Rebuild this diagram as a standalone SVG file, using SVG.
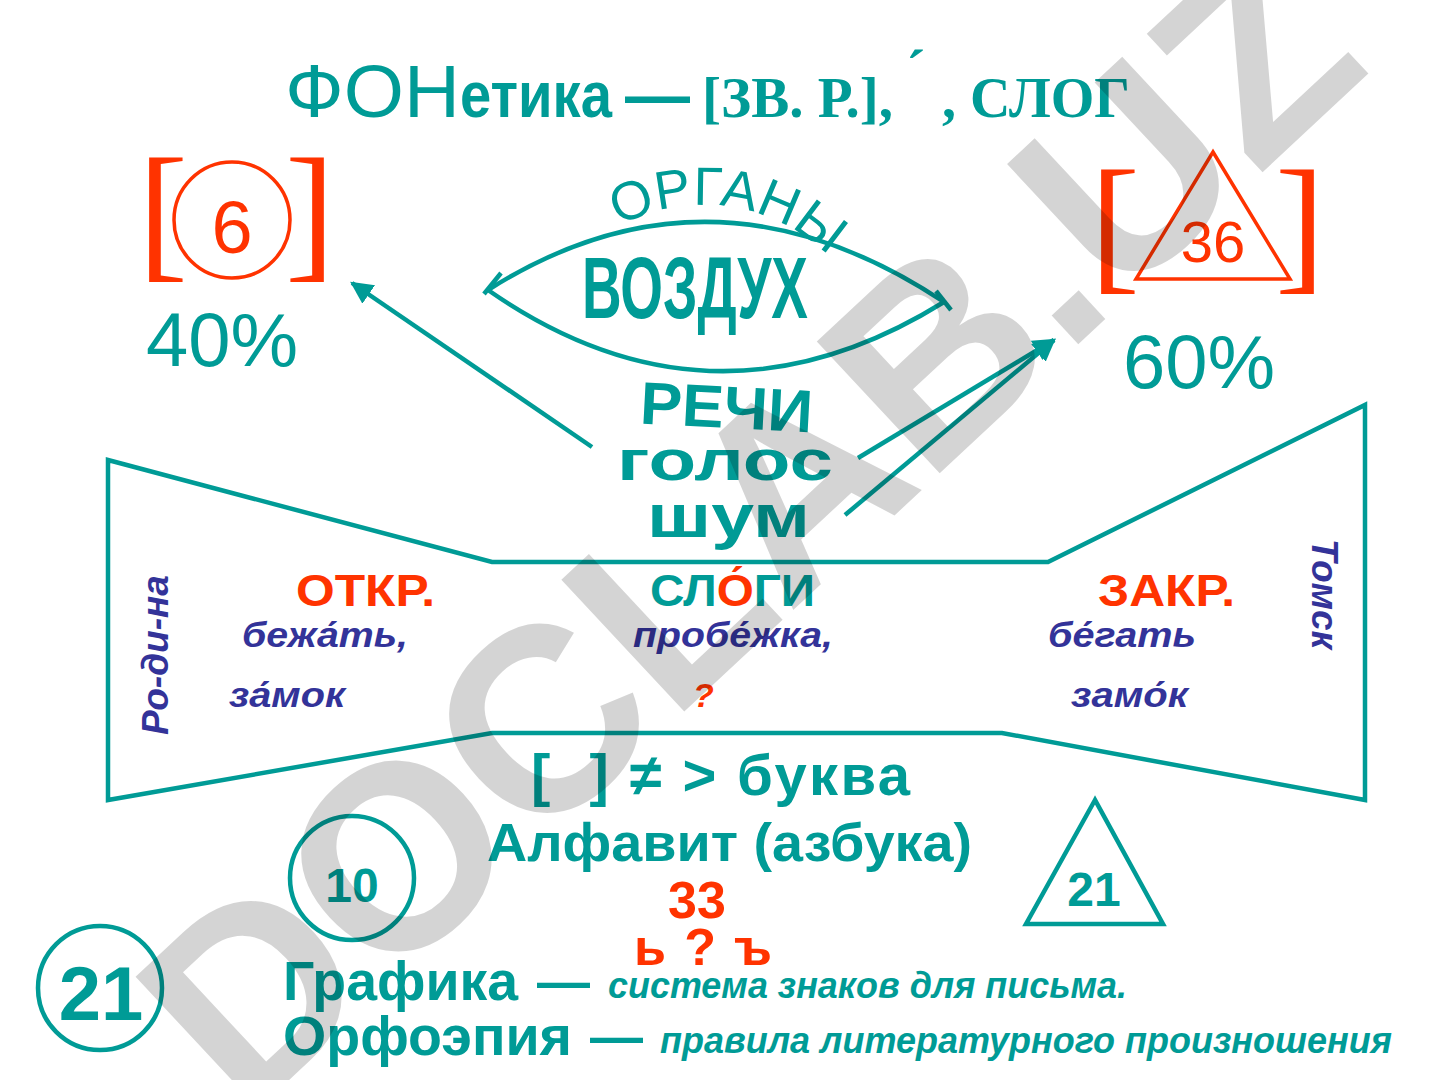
<svg xmlns="http://www.w3.org/2000/svg" width="1440" height="1080" viewBox="0 0 1440 1080">
<style>
.t{fill:#009b96}
.r{fill:#ff3300}
.n{fill:#333399}
.s{font-family:"Liberation Sans",Arial,sans-serif}
.sf{font-family:"Liberation Serif","Times New Roman",serif}
.b{font-weight:bold}
.i{font-style:italic}
.ln{stroke:#009b96;stroke-width:4.5;fill:none}
.rl{stroke:#ff3300;stroke-width:3.5;fill:none}
</style>
<defs>
<marker id="ah" markerWidth="6" markerHeight="6" refX="4.5" refY="2.5" orient="auto" markerUnits="strokeWidth">
<path d="M0,0 L5,2.5 L0,5 Z" fill="#009b96"/>
</marker>
<path id="arcP" d="M 563.1,273 A 178 178 0 0 1 868.3,316.9"/>
</defs>
<rect width="1440" height="1080" fill="#ffffff"/>

<g id="title">
<text class="s t" x="285" y="117" font-size="74" textLength="175" lengthAdjust="spacingAndGlyphs">ФОН</text>
<text class="s t b" x="460" y="117" font-size="64" textLength="152" lengthAdjust="spacingAndGlyphs">етика</text>
<text class="s t b" x="625" y="117" font-size="64" textLength="65" lengthAdjust="spacingAndGlyphs">—</text>
<text class="sf t b" x="702" y="117" font-size="58" textLength="191" lengthAdjust="spacingAndGlyphs">[ЗВ. Р.],</text>
<text class="sf t b" x="906" y="89" font-size="58">´</text>
<text class="sf t b" x="942" y="117" font-size="58" textLength="188" lengthAdjust="spacingAndGlyphs">, СЛОГ</text>
</g>

<g id="node-left">
<text class="sf r" x="138" y="262" font-size="150">[</text>
<circle class="rl" cx="232" cy="220" r="58"/>
<text class="s r" x="232" y="253" font-size="74" text-anchor="middle">6</text>
<text class="sf r" x="285" y="262" font-size="150">]</text>
<text class="s t" x="222" y="366" font-size="76" text-anchor="middle">40%</text>
</g>

<g id="node-right">
<text class="sf r" x="1090" y="274" font-size="150">[</text>
<polygon class="rl" points="1213,152 1136,279 1290,279" stroke-width="4.5"/>
<text class="s r" x="1213" y="262" font-size="58" text-anchor="middle">36</text>
<text class="sf r" x="1275" y="274" font-size="150">]</text>
<text class="s t" x="1199" y="388" font-size="76" text-anchor="middle">60%</text>
</g>

<g id="node-organs">
<path class="ln" d="M 488,290 Q 712,148 944,302"/>
<path class="ln" d="M 488,290 Q 712,446 944,302"/>
<line class="ln" x1="484" y1="294" x2="501" y2="273"/>
<line class="ln" x1="936" y1="291" x2="951" y2="310"/>
<text class="s t" font-size="54"><textPath href="#arcP" startOffset="50%" text-anchor="middle">ОРГАНЫ</textPath></text>
<text class="s t b" x="582" y="318" font-size="88" textLength="226" lengthAdjust="spacingAndGlyphs">ВОЗДУХ</text>
<text class="s t b" x="640" y="428" font-size="60" textLength="173" lengthAdjust="spacingAndGlyphs" transform="rotate(3 727 410)">РЕЧИ</text>
<text class="s t b" x="617" y="480" font-size="58" textLength="216" lengthAdjust="spacingAndGlyphs">голос</text>
<text class="s t b" x="647" y="537" font-size="62" textLength="163" lengthAdjust="spacingAndGlyphs">шум</text>
</g>

<g id="connectors">
<line class="ln" x1="592" y1="447" x2="352" y2="283" marker-end="url(#ah)"/>
<line class="ln" x1="858" y1="458" x2="1054" y2="340" marker-end="url(#ah)"/>
<line class="ln" x1="845" y1="515" x2="1054" y2="340" marker-end="url(#ah)"/>
</g>

<g id="node-syllables">
<polygon class="ln" stroke-width="4" points="108,460 492,562 1048,562 1365,405 1365,800 1002,733 492,733 108,800"/>
<text class="s n b i" font-size="37" text-anchor="middle" transform="translate(168,655) rotate(-90)">Ро-ди-на</text>
<text class="s n b i" font-size="37" text-anchor="middle" transform="translate(1312,594) rotate(90)">Томск</text>
<text class="s r b" x="296" y="606" font-size="44" textLength="139" lengthAdjust="spacingAndGlyphs">ОТКР.</text>
<text class="s t b" x="650" y="606" font-size="44" textLength="165" lengthAdjust="spacingAndGlyphs">СЛ<tspan class="r">О́</tspan>ГИ</text>
<text class="s r b" x="1098" y="606" font-size="44" textLength="137" lengthAdjust="spacingAndGlyphs">ЗАКР.</text>
<text class="s n b i" x="242" y="647" font-size="35" textLength="166" lengthAdjust="spacingAndGlyphs">бежа́ть,</text>
<text class="s n b i" x="633" y="647" font-size="35" textLength="200" lengthAdjust="spacingAndGlyphs">пробе́жка,</text>
<text class="s n b i" x="1048" y="647" font-size="35" textLength="148" lengthAdjust="spacingAndGlyphs">бе́гать</text>
<text class="s n b i" x="229" y="707" font-size="35" textLength="116" lengthAdjust="spacingAndGlyphs">за́мок</text>
<text class="s r b i" x="693" y="707" font-size="34">?</text>
<text class="s n b i" x="1071" y="707" font-size="35" textLength="117" lengthAdjust="spacingAndGlyphs">замо́к</text>
</g>

<g id="node-letters">
<text class="s t b" x="531" y="795" font-size="58" xml:space="preserve" textLength="379" lengthAdjust="spacing">[  ] ≠ &gt; буква</text>
<text class="s t b" x="487" y="861" font-size="54" textLength="485" lengthAdjust="spacingAndGlyphs">Алфавит (азбука)</text>
<text class="s r b" x="697" y="918" font-size="52" text-anchor="middle">33</text>
<text class="s r b" x="703" y="965" font-size="52" text-anchor="middle" textLength="138" lengthAdjust="spacing">ь ? ъ</text>
</g>

<g id="node-circle10">
<circle class="ln" cx="352" cy="878" r="62" stroke-width="5"/>
<text class="s t b" x="352" y="902" font-size="48" text-anchor="middle">10</text>
</g>

<g id="node-triangle21">
<polygon class="ln" stroke-width="5" points="1095,800 1026,924 1163,924"/>
<text class="s t b" x="1094" y="906" font-size="48" text-anchor="middle">21</text>
</g>

<g id="node-circle21">
<circle class="ln" cx="100" cy="988" r="62" stroke-width="5"/>
<text class="s t b" x="101" y="1020" font-size="76" text-anchor="middle">21</text>
</g>

<g id="node-definitions">
<text class="s t b" x="283" y="1000" font-size="56" textLength="235" lengthAdjust="spacingAndGlyphs">Графика</text>
<text class="s t b" x="537" y="1000" font-size="54" textLength="53" lengthAdjust="spacingAndGlyphs">—</text>
<text class="s t b i" x="608" y="998" font-size="36" textLength="519" lengthAdjust="spacingAndGlyphs">система знаков для письма.</text>
<text class="s t b" x="283" y="1055" font-size="56" textLength="289" lengthAdjust="spacingAndGlyphs">Орфоэпия</text>
<text class="s t b" x="590" y="1055" font-size="54" textLength="53" lengthAdjust="spacingAndGlyphs">—</text>
<text class="s t b i" x="660" y="1053" font-size="36" textLength="732" lengthAdjust="spacingAndGlyphs">правила литературного произношения</text>
</g>

<g id="watermark">
<text class="s b" font-size="262" fill="#000000" fill-opacity="0.17" text-anchor="middle" transform="translate(745,525) rotate(-43)" y="95">DOCLAB.UZ</text>
</g>
</svg>
